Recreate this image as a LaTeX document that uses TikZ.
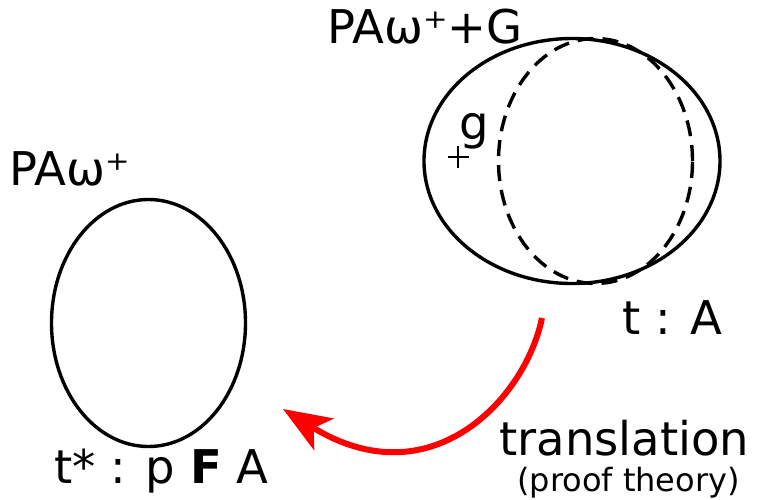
\documentclass[tikz,border=0pt]{standalone}
\usepackage{fontspec}
\setmainfont{DejaVu Sans}
\usetikzlibrary{
  arrows.meta,
  positioning,
  shapes.geometric
}
\definecolor{arrred}{RGB}{255,0,0}
\tikzset{
  world/.style={draw=black,line width=3.4pt,ellipse,inner sep=0pt},
  hypworld/.style={world,dash pattern=on 16pt off 9pt},
  lbl/.style={inner sep=0pt,anchor=base west,font=\fontsize{46.5}{56}\selectfont},
  sublbl/.style={inner sep=0pt,anchor=base west,font=\fontsize{32}{38}\selectfont}
}

\begin{document}
\begin{tikzpicture}[x=1pt,y=-1pt]
  \useasboundingbox (0,0) rectangle (761,499);
  % the two theories
  \node[world,minimum width=194pt,minimum height=247pt] (pa) at (148.5,323) {};
  \node[world,minimum width=296pt,minimum height=245pt] (pag) at (572,161) {};
  \node[hypworld,minimum width=194pt,minimum height=245pt] (gpart) at (595.5,161) {};
  % labels
  \node[lbl] (palbl) at (9,185) {PAω⁺};
  \node[lbl] (paglbl) at (327,43) {PAω⁺+G};
  \node[lbl] (glbl) at (459,139) {g};
  \node[lbl] (tlbl) at (622,334) {t : A};
  \node[lbl] (tstarlbl) at (54,483) {t* : p \textbf{F} A};
  \node[lbl] (translbl) at (499,455) {translation};
  \node[sublbl] (prooflbl) at (517,491) {(proof theory)};
  % point g
  \coordinate (gpt) at (458,157);
  \draw[line width=1.2pt] ([xshift=-10.5pt]gpt) -- ([xshift=10.5pt]gpt);
  \draw[line width=1.2pt] ([yshift=11pt]gpt) -- ([yshift=-11pt]gpt);
  % translation arrow
  \coordinate (arrstart) at (542,318);
  \coordinate (arrtip) at (283,409);
  \draw[arrred,line width=6pt,-{Stealth[length=48pt,width=37pt,inset=12pt]}]
    (arrstart) .. controls (525,400) and (430,500) .. (arrtip);
\end{tikzpicture}
\end{document}
